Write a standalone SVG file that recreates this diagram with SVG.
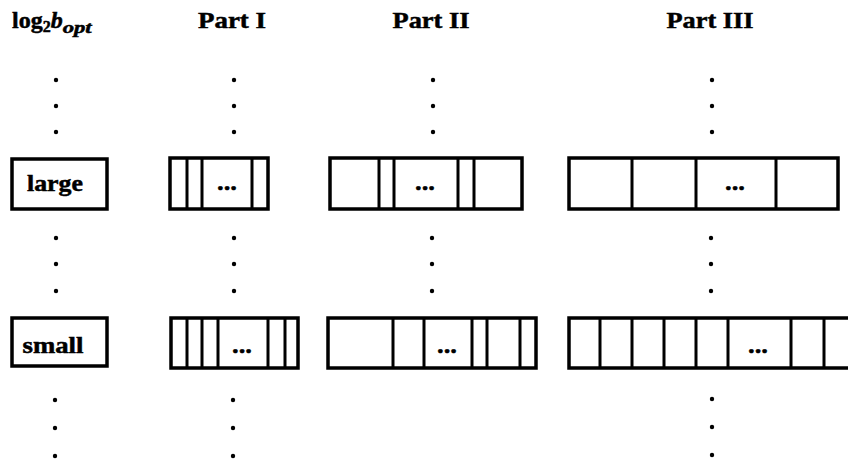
<svg xmlns="http://www.w3.org/2000/svg" width="848" height="470" viewBox="0 0 848 470">
<style>
text{font-family:"Liberation Serif","Times New Roman",serif;font-weight:bold;fill:#000;stroke:#000;stroke-width:0.5}
.hdr{font-size:24px}
.lbl{font-size:23px;text-anchor:middle}
.ell{font-size:24px;text-anchor:middle}
.box{fill:#fff;stroke:#000;stroke-width:3.5}
.div{stroke:#000;stroke-width:3}
.dot{fill:#000}
</style>
<rect width="848" height="470" fill="#fff"/>
<g id="headers">
<text x="12" y="28" class="hdr">log<tspan font-size="16" dy="4">2</tspan><tspan dy="-4" font-style="italic">b</tspan><tspan font-size="17" dy="5" font-style="italic" textLength="29" lengthAdjust="spacingAndGlyphs">opt</tspan></text>
<text x="232" y="28" class="hdr" text-anchor="middle" textLength="68" lengthAdjust="spacingAndGlyphs">Part I</text>
<text x="431" y="28" class="hdr" text-anchor="middle" textLength="77" lengthAdjust="spacingAndGlyphs">Part II</text>
<text x="710" y="28" class="hdr" text-anchor="middle" textLength="87" lengthAdjust="spacingAndGlyphs">Part III</text>
</g>
<g id="connectors">
<g class="dot">
<circle cx="56" cy="80" r="2.2"/><circle cx="56" cy="106" r="2.2"/><circle cx="56" cy="132" r="2.2"/>
<circle cx="234" cy="80" r="2.2"/><circle cx="234" cy="106" r="2.2"/><circle cx="234" cy="132" r="2.2"/>
<circle cx="433" cy="80" r="2.2"/><circle cx="433" cy="106" r="2.2"/><circle cx="433" cy="132" r="2.2"/>
<circle cx="712" cy="80" r="2.2"/><circle cx="712" cy="106" r="2.2"/><circle cx="712" cy="132" r="2.2"/>
<circle cx="56" cy="238" r="2.2"/><circle cx="56" cy="264" r="2.2"/><circle cx="56" cy="291" r="2.2"/>
<circle cx="234" cy="238" r="2.2"/><circle cx="234" cy="264" r="2.2"/><circle cx="234" cy="291" r="2.2"/>
<circle cx="432" cy="238" r="2.2"/><circle cx="432" cy="264" r="2.2"/><circle cx="432" cy="291" r="2.2"/>
<circle cx="711" cy="238" r="2.2"/><circle cx="711" cy="264" r="2.2"/><circle cx="711" cy="291" r="2.2"/>
<circle cx="55" cy="400" r="2.2"/><circle cx="55" cy="428" r="2.2"/><circle cx="55" cy="456" r="2.2"/>
<circle cx="233" cy="400" r="2.2"/><circle cx="233" cy="428" r="2.2"/><circle cx="233" cy="456" r="2.2"/>
<circle cx="712" cy="399" r="2.2"/><circle cx="712" cy="427" r="2.2"/><circle cx="712" cy="455" r="2.2"/>
</g>
</g>
<g id="large">
<rect class="box" x="12" y="159" width="95" height="50"/>
<text class="lbl" x="55" y="191" textLength="56" lengthAdjust="spacingAndGlyphs">large</text>
</g>
<g id="large-part1">
<rect class="box" x="170" y="158" width="98" height="51"/>
<path class="div" d="M187 158V209M202 158V209M252 158V209"/>
<text class="ell" x="227" y="190" textLength="20" lengthAdjust="spacingAndGlyphs">...</text>
</g>
<g id="large-part2">
<rect class="box" x="330" y="158" width="192" height="51"/>
<path class="div" d="M379 158V209M394 158V209M458 158V209M474 158V209"/>
<text class="ell" x="425" y="190" textLength="20" lengthAdjust="spacingAndGlyphs">...</text>
</g>
<g id="large-part3">
<rect class="box" x="569" y="158" width="269" height="51"/>
<path class="div" d="M632 158V209M696 158V209M776 158V209"/>
<text class="ell" x="735" y="190" textLength="20" lengthAdjust="spacingAndGlyphs">...</text>
</g>
<g id="small">
<rect class="box" x="12" y="318" width="95" height="48"/>
<text class="lbl" x="53" y="353" textLength="61" lengthAdjust="spacingAndGlyphs">small</text>
</g>
<g id="small-part1">
<rect class="box" x="171" y="318" width="127" height="50"/>
<path class="div" d="M187 318V368M202 318V368M218 318V368M268 318V368M285 318V368"/>
<text class="ell" x="242" y="353" textLength="20" lengthAdjust="spacingAndGlyphs">...</text>
</g>
<g id="small-part2">
<rect class="box" x="328" y="318" width="208" height="50"/>
<path class="div" d="M393 318V368M424 318V368M472 318V368M487 318V368M520 318V368"/>
<text class="ell" x="447" y="353" textLength="20" lengthAdjust="spacingAndGlyphs">...</text>
</g>
<g id="small-part3">
<rect class="box" x="569" y="318" width="290" height="50"/>
<path class="div" d="M600 318V368M632 318V368M664 318V368M696 318V368M728 318V368M791 318V368M824 318V368"/>
<text class="ell" x="758" y="353" textLength="20" lengthAdjust="spacingAndGlyphs">...</text>
</g>
</svg>
